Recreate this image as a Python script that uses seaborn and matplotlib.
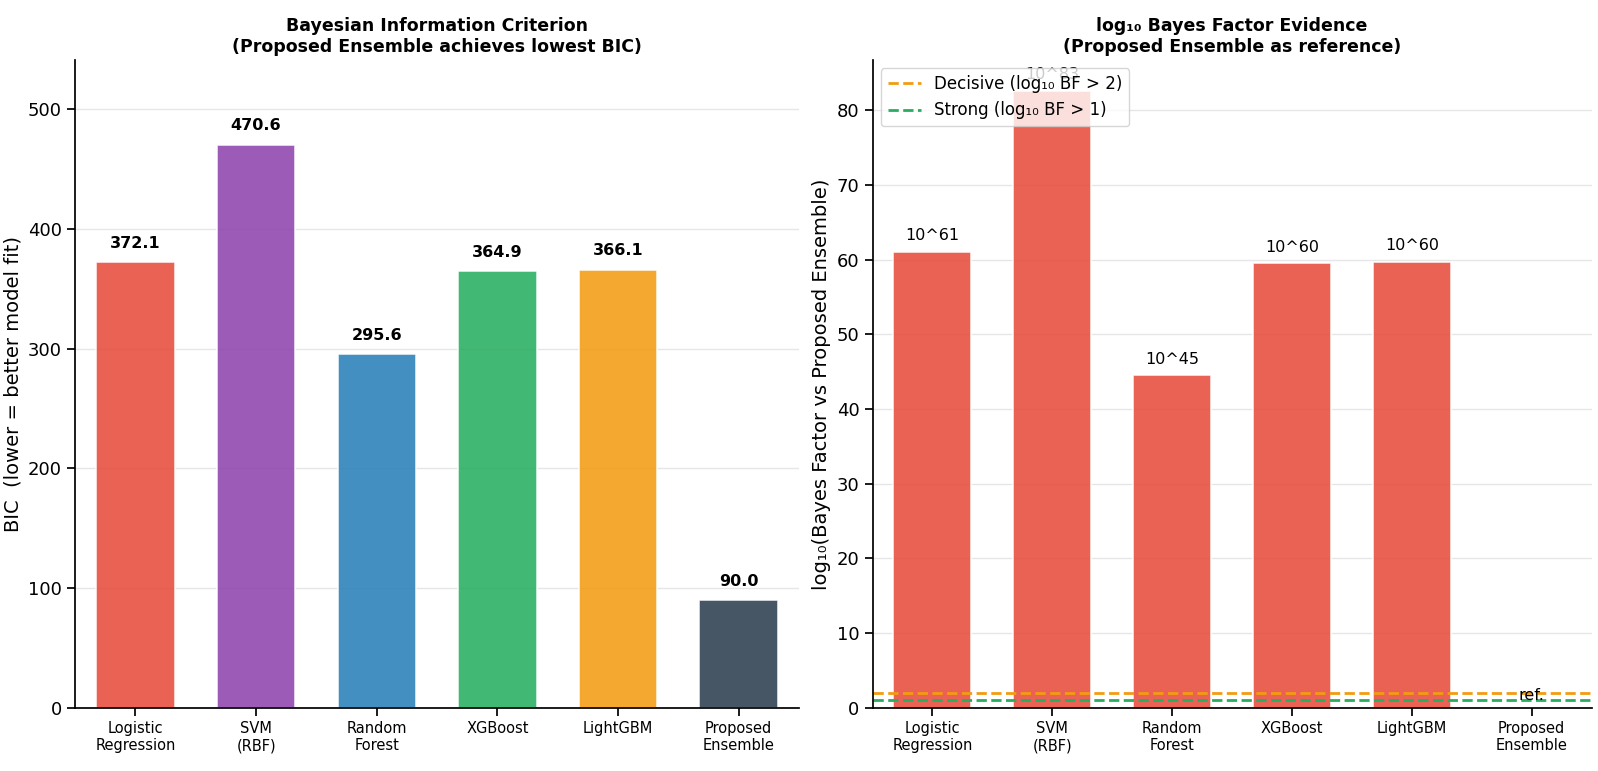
import numpy as np
import pandas as pd
import seaborn as sns
import matplotlib
matplotlib.use('Agg')
import matplotlib.pyplot as plt

models = ['Logistic\nRegression', 'SVM\n(RBF)', 'Random\nForest',
          'XGBoost', 'LightGBM', 'Proposed\nEnsemble']
bic = [372.1, 470.6, 295.6, 364.9, 366.1, 90.0]
log_bf = [61.1, 82.6, 44.5, 59.5, 59.7, 0.0]
bf_labels = ['10^61', '10^83', '10^45', '10^60', '10^60', '']
bar_colors = ['#e74c3c', '#8e44ad', '#2980b9', '#27ae60', '#f39c12', '#2c3e50']


if __name__ == '__main__':

    sns.set_theme(style='ticks')
    plt.rcParams['font.family'] = ['DejaVu Sans']
    for key in ('text.color', 'axes.labelcolor', 'xtick.color',
                'ytick.color', 'axes.edgecolor'):
        plt.rcParams[key] = 'black'
    df = pd.DataFrame({'model': models, 'bic': bic, 'log_bf': log_bf})

    fig = plt.figure(figsize=(15.98, 7.71), dpi=100)
    ax1 = fig.add_axes([0.047, 0.082, 0.453, 0.84])
    ax2 = fig.add_axes([0.546, 0.082, 0.450, 0.84])

    # left: BIC per model
    sns.barplot(data=df, x='model', y='bic', hue='model', palette=bar_colors,
                saturation=1, width=0.65, alpha=0.88, edgecolor='white',
                linewidth=1.2, legend=False, ax=ax1)
    for i, v in enumerate(bic):
        ax1.text(i, v + max(bic) * 0.02, f'{v:.1f}', ha='center', va='bottom',
                 fontsize=11.5, fontweight='bold')
    ax1.set_ylim(0, max(bic) * 1.15)
    ax1.set_title('Bayesian Information Criterion\n(Proposed Ensemble achieves lowest BIC)',
                  fontsize=12.5, fontweight='bold')
    ax1.set_ylabel('BIC  (lower = better model fit)', fontsize=14)
    ax1.set_xlabel('')

    # right: log10 Bayes factor vs ensemble
    sns.barplot(data=df, x='model', y='log_bf', color='#e74c3c', saturation=1,
                width=0.65, alpha=0.88, edgecolor='white', linewidth=1.2,
                ax=ax2)
    for i, (v, lab) in enumerate(zip(log_bf, bf_labels)):
        if lab:
            ax2.text(i, v + 1.2, lab, ha='center', va='bottom', fontsize=11.5)
    ax2.text(5, 0.6, 'ref.', ha='center', va='bottom', fontsize=11.5)
    ax2.axhline(2, color='#f39c12', linestyle='--', linewidth=2,
                label='Decisive (log₁₀ BF > 2)')
    ax2.axhline(1, color='#27ae60', linestyle='--', linewidth=2,
                label='Strong (log₁₀ BF > 1)')
    ax2.set_ylim(0, max(log_bf) * 1.05)
    ax2.set_title('log₁₀ Bayes Factor Evidence\n(Proposed Ensemble as reference)',
                  fontsize=12.5, fontweight='bold')
    ax2.set_ylabel('log₁₀(Bayes Factor vs Proposed Ensemble)', fontsize=14)
    ax2.set_xlabel('')
    ax2.legend(loc='upper left', fontsize=12, framealpha=0.8)

    for ax in (ax1, ax2):
        ax.yaxis.grid(True, color='#e6e6e6', linewidth=1)
        ax.set_axisbelow(True)
        ax.tick_params(axis='x', labelsize=10.5)
        ax.tick_params(axis='y', labelsize=13)
        sns.despine(ax=ax)

    fig.savefig('out.png', dpi=100)
